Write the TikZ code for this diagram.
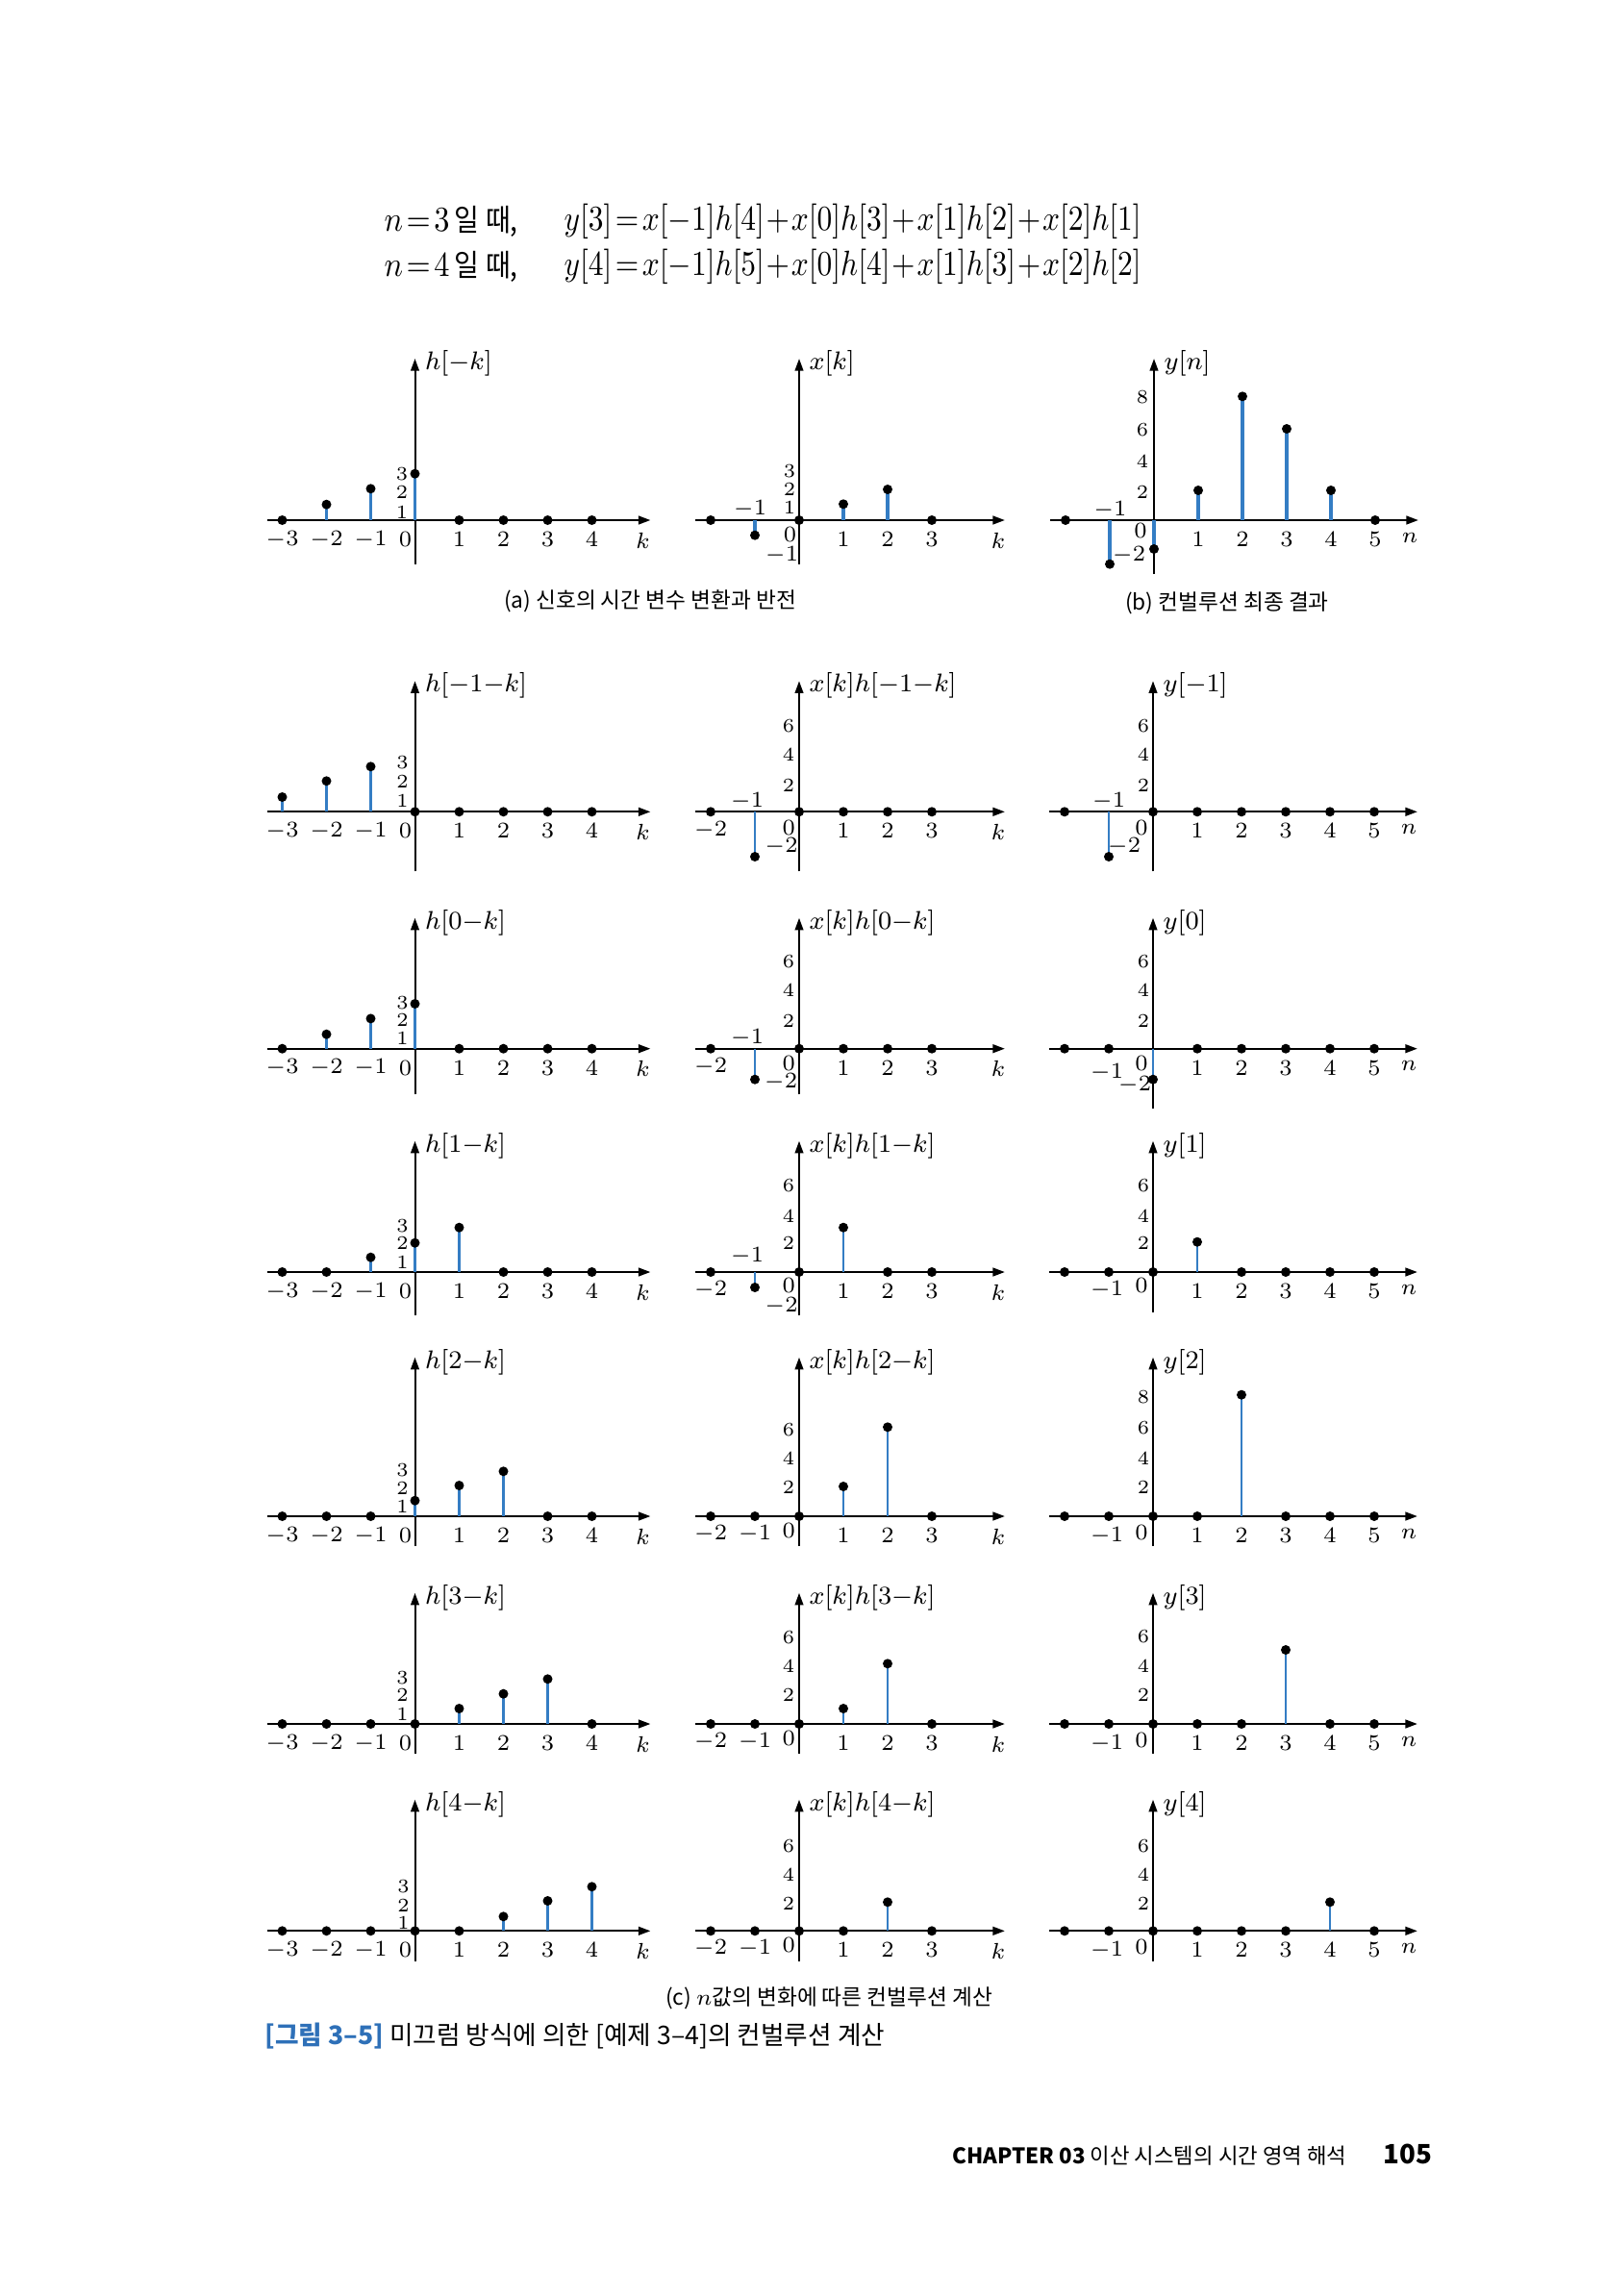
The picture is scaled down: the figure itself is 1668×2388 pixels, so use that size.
\documentclass[tikz,border=0pt]{standalone}
\usepackage{fontspec}
\usepackage{graphicx}
\usetikzlibrary{arrows.meta}
\newfontfamily\kr{Noto Sans CJK KR}
\definecolor{stemblue}{RGB}{52,125,196}
\definecolor{capblue}{RGB}{46,112,184}
\newcommand\zdots[1]{\foreach \k in {#1} {\fill (\k*46,0) circle[radius=1.5pt];}}
\newcommand\stemdot[2]{\draw[stm] (#1*46,0) -- (#1*46,#2); \fill (#1*46,#2) circle[radius=1.5pt];}
\newcommand\lab[3]{\node[tl] at (#1,#2) {$#3$};}
\newcommand\ylab[3]{\node[yl] at (#1,#2) {$#3$};}
\newcommand\slab[3]{\node[sl] at (#1,#2) {$#3$};}
\newcommand\Lcol[3]{%
 \draw[hax] (-154,0) -- (245,0);
 \draw[vax] (0,#1) -- (0,#2);
 \node[fl] at (10,#2+5) {$#3$};
 \foreach \k in {-3,-2,-1,1,2,3,4} {\node[tl] at (\k*46,20) {$\k$};}
 \node[tl] at (-10,20) {$0$};
 \node[tl] at (237,21) {$k$};}
\newcommand\Mcol[3]{%
 \draw[hax] (-108,0) -- (214,0);
 \draw[vax] (0,#1) -- (0,#2);
 \node[fl] at (10,#2+5) {$#3$};
 \foreach \k in {1,2,3} {\node[tl] at (\k*46,20) {$\k$};}
 \node[tl] at (207,21) {$k$};}
\newcommand\Rcol[3]{%
 \draw[hax] (-108,0) -- (275,0);
 \draw[vax] (0,#1) -- (0,#2);
 \node[fl] at (10,#2+5) {$#3$};
 \foreach \k in {1,2,3,4,5} {\node[tl] at (\k*46,20) {$\k$};}
 \node[tl] at (266,18) {$n$};}
\begin{document}
\begin{tikzpicture}[x=0.3pt,y=-0.3pt,
 hax/.style={line width=0.7pt,-{Triangle[length=3.8pt,width=2.6pt]}},
 vax/.style={line width=0.6pt,-{Triangle[length=3.8pt,width=2.6pt]}},
 stm/.style={stemblue,line width=0.75pt},
 tl/.style={inner sep=0pt,font=\fontsize{6.8}{8}\selectfont},
 yl/.style={inner sep=0pt,font=\fontsize{6.5}{7.5}\selectfont},
 sl/.style={inner sep=0pt,font=\fontsize{6}{7}\selectfont},
 fl/.style={inner sep=0pt,anchor=west,font=\fontsize{8}{9.5}\selectfont},
 captxt/.style={inner sep=0pt,font=\kr\fontsize{6.8}{8}\selectfont}]
\fill[white] (0,0) rectangle (1668,2388);
\useasboundingbox (0,0) rectangle (1668,2388);
% equations
\node[anchor=west,inner sep=0pt,font=\fontsize{10.5}{12}\selectfont] (n3) at (399,230) {\resizebox{41.7pt}{\height}{$n\!=\!3$\,{\kr\fontsize{9.5}{10}\selectfont 일\ 때,}}};
\node[anchor=west,inner sep=0pt,font=\fontsize{10.5}{12}\selectfont] (y3) at (586,230) {\resizebox{180pt}{\height}{$y[3]\!=\!x[-1]h[4]\!+\!x[0]h[3]\!+\!x[1]h[2]\!+\!x[2]h[1]$}};
\node[anchor=west,inner sep=0pt,font=\fontsize{10.5}{12}\selectfont] (n4) at (399,277) {\resizebox{41.7pt}{\height}{$n\!=\!4$\,{\kr\fontsize{9.5}{10}\selectfont 일\ 때,}}};
\node[anchor=west,inner sep=0pt,font=\fontsize{10.5}{12}\selectfont] (y4) at (586,277) {\resizebox{180pt}{\height}{$y[4]\!=\!x[-1]h[5]\!+\!x[0]h[4]\!+\!x[1]h[3]\!+\!x[2]h[2]$}};
% ---- row (a)/(b)
\begin{scope}[shift={(431.5,541)},stm/.style={stemblue,line width=1pt}]
 \Lcol{46}{-168}{h[{-}k]}
 \stemdot{-2}{-16.3}\stemdot{-1}{-32.7}\stemdot{0}{-48.3}
 \zdots{-3,1,2,3,4}
 \slab{-13.5}{-48.3}{3}\slab{-13.5}{-29.3}{2}\slab{-13.5}{-8.3}{1}
\end{scope}
\begin{scope}[shift={(831,541)},stm/.style={stemblue,line width=1pt}]
 \Mcol{46}{-168}{x[k]}
 \stemdot{-1}{15.7}\stemdot{1}{-16.7}\stemdot{2}{-32}
 \zdots{-2,0,3}
 \slab{-10}{-51}{3}\slab{-10}{-32}{2}\slab{-10}{-12.7}{1}
 \lab{-51}{-12}{-1}\lab{-9.5}{15}{0}\lab{-18}{36}{-1}
\end{scope}
\begin{scope}[shift={(1200,541)},stm/.style={stemblue,line width=1pt}]
 \Rcol{56}{-168}{y[n]}
 \stemdot{-1}{45.7}\stemdot{0}{30}\stemdot{1}{-31}\stemdot{2}{-128.7}\stemdot{3}{-95}\stemdot{4}{-31}
 \zdots{-2,5}
 \ylab{-12}{-128.3}{8}\ylab{-12}{-94.3}{6}\ylab{-12}{-61}{4}\ylab{-12}{-29.3}{2}
 \lab{-45.7}{-11}{-1}\lab{-14}{11}{0}\lab{-26}{36}{-2}
\end{scope}
\node[captxt] (capa) at (676,625) {(a) 신호의 시간 변수 변환과 반전};
\node[captxt] (capb) at (1276,627) {(b) 컨벌루션 최종 결과};
% ---- c1
\begin{scope}[shift={(431.5,844.3)}]
 \Lcol{62}{-136}{h[{-}1{-}k]}
 \stemdot{-3}{-15.3}\stemdot{-2}{-32}\stemdot{-1}{-47}
 \zdots{0,1,2,3,4}
 \slab{-13}{-51}{3}\slab{-13}{-31}{2}\slab{-13}{-11}{1}
\end{scope}
\begin{scope}[shift={(831,844.3)}]
 \Mcol{62}{-136}{x[k]h[{-}1{-}k]}
 \stemdot{-1}{46.7}
 \zdots{-2,0,1,2,3}
 \lab{-92}{19}{-2}\lab{-54}{-11}{-1}\lab{-10.7}{16.5}{0}\lab{-18.5}{36}{-2}
 \ylab{-11}{-89.3}{6}\ylab{-11}{-59.3}{4}\ylab{-11}{-27.7}{2}
\end{scope}
\begin{scope}[shift={(1199,844.3)}]
 \Rcol{62}{-136}{y[{-}1]}
 \stemdot{-1}{46.7}
 \zdots{-2,0,1,2,3,4,5}
 \lab{-46}{-11}{-1}\lab{-12}{16.5}{0}\lab{-30}{36}{-2}
 \ylab{-10}{-89.3}{6}\ylab{-10}{-59.3}{4}\ylab{-10}{-27.7}{2}
\end{scope}
% ---- c2
\begin{scope}[shift={(431.5,1090.7)}]
 \Lcol{47.6}{-136}{h[0{-}k]}
 \stemdot{-2}{-15}\stemdot{-1}{-31.3}\stemdot{0}{-46.7}
 \zdots{-3,1,2,3,4}
 \slab{-13}{-47.3}{3}\slab{-13}{-29.7}{2}\slab{-13}{-10.7}{1}
\end{scope}
\begin{scope}[shift={(831,1090.7)}]
 \Mcol{47.6}{-136}{x[k]h[0{-}k]}
 \stemdot{-1}{32}
 \zdots{-2,0,1,2,3}
 \lab{-92}{19}{-2}\lab{-54}{-11}{-1}\lab{-10.7}{15}{0}\lab{-19}{34.5}{-2}
 \ylab{-11}{-90.7}{6}\ylab{-11}{-60.7}{4}\ylab{-11}{-29}{2}
\end{scope}
\begin{scope}[shift={(1199,1090.7)}]
 \Rcol{62.6}{-136}{y[0]}
 \stemdot{0}{32}
 \zdots{-2,-1,1,2,3,4,5}
 \lab{-48}{24.3}{-1}\lab{-12}{15}{0}\lab{-19}{38}{-2}
 \ylab{-10}{-90.7}{6}\ylab{-10}{-60.7}{4}\ylab{-10}{-29}{2}
\end{scope}
% ---- c3
\begin{scope}[shift={(431.5,1323)}]
 \Lcol{45.3}{-136.3}{h[1{-}k]}
 \stemdot{-1}{-15.3}\stemdot{0}{-30.3}\stemdot{1}{-46.3}
 \zdots{-3,-2,2,3,4}
 \slab{-13}{-48}{3}\slab{-13}{-29.7}{2}\slab{-13}{-9.7}{1}
\end{scope}
\begin{scope}[shift={(831,1323)}]
 \Mcol{45.3}{-136.3}{x[k]h[1{-}k]}
 \stemdot{-1}{16}\stemdot{1}{-46.3}
 \zdots{-2,0,2,3}
 \lab{-92}{18}{-2}\lab{-54}{-16.3}{-1}\lab{-10.7}{13.7}{0}\lab{-18.5}{35.3}{-2}
 \ylab{-11}{-89.7}{6}\ylab{-11}{-58}{4}\ylab{-11}{-29.7}{2}
\end{scope}
\begin{scope}[shift={(1199,1323)}]
 \Rcol{42}{-136.3}{y[1]}
 \stemdot{1}{-31.3}
 \zdots{-2,-1,0,2,3,4,5}
 \lab{-48}{18.7}{-1}\lab{-12}{13.7}{0}
 \ylab{-10}{-89.7}{6}\ylab{-10}{-58}{4}\ylab{-10}{-29.7}{2}
\end{scope}
% ---- c4
\begin{scope}[shift={(431.5,1577)}]
 \Lcol{31}{-165.3}{h[2{-}k]}
 \stemdot{0}{-16.3}\stemdot{1}{-32}\stemdot{2}{-46.7}
 \zdots{-3,-2,-1,3,4}
 \slab{-13}{-48}{3}\slab{-13}{-28.7}{2}\slab{-13}{-10.3}{1}
\end{scope}
\begin{scope}[shift={(831,1577)}]
 \Mcol{31}{-165.3}{x[k]h[2{-}k]}
 \stemdot{1}{-31}\stemdot{2}{-92.7}
 \zdots{-2,-1,0,3}
 \lab{-92}{18}{-2}\lab{-46}{18}{-1}\lab{-10.7}{15}{0}
 \ylab{-11}{-90.3}{6}\ylab{-11}{-60.3}{4}\ylab{-11}{-30.3}{2}
\end{scope}
\begin{scope}[shift={(1199,1577)}]
 \Rcol{31}{-165.3}{y[2]}
 \stemdot{2}{-126.3}
 \zdots{-2,-1,0,1,3,4,5}
 \lab{-48}{20}{-1}\lab{-12}{17}{0}
 \ylab{-10}{-123.7}{8}\ylab{-10}{-92}{6}\ylab{-10}{-60.3}{4}\ylab{-10}{-30.3}{2}
\end{scope}
% ---- c5
\begin{scope}[shift={(431.5,1793)}]
 \Lcol{31}{-136.3}{h[3{-}k]}
 \stemdot{1}{-16}\stemdot{2}{-31.3}\stemdot{3}{-46.7}
 \zdots{-3,-2,-1,0,4}
 \slab{-13}{-48}{3}\slab{-13}{-29.7}{2}\slab{-13}{-9.7}{1}
\end{scope}
\begin{scope}[shift={(831,1793)}]
 \Mcol{31}{-136.3}{x[k]h[3{-}k]}
 \stemdot{1}{-16}\stemdot{2}{-62.7}
 \zdots{-2,-1,0,3}
 \lab{-92}{18}{-2}\lab{-46}{18}{-1}\lab{-10.7}{15}{0}
 \ylab{-11}{-89.7}{6}\ylab{-11}{-59.7}{4}\ylab{-11}{-29.7}{2}
\end{scope}
\begin{scope}[shift={(1199,1793)}]
 \Rcol{31}{-136.3}{y[3]}
 \stemdot{3}{-77}
 \zdots{-2,-1,0,1,2,4,5}
 \lab{-48}{20}{-1}\lab{-12}{17}{0}
 \ylab{-10}{-91.3}{6}\ylab{-10}{-59.7}{4}\ylab{-10}{-29.7}{2}
\end{scope}
% ---- c6
\begin{scope}[shift={(431.5,2008.3)}]
 \Lcol{31.7}{-136.6}{h[4{-}k]}
 \stemdot{2}{-15}\stemdot{3}{-31.3}\stemdot{4}{-46}
 \zdots{-3,-2,-1,0,1}
 \slab{-12}{-46.7}{3}\slab{-12}{-26.6}{2}\slab{-12}{-8.3}{1}
\end{scope}
\begin{scope}[shift={(831,2008.3)}]
 \Mcol{31.7}{-136.6}{x[k]h[4{-}k]}
 \stemdot{2}{-30}
 \zdots{-2,-1,0,1,3}
 \lab{-92}{18}{-2}\lab{-46}{18}{-1}\lab{-10.7}{15}{0}
 \ylab{-11}{-88.3}{6}\ylab{-11}{-58.3}{4}\ylab{-11}{-28.3}{2}
\end{scope}
\begin{scope}[shift={(1199,2008.3)}]
 \Rcol{31.7}{-136.6}{y[4]}
 \stemdot{4}{-30}
 \zdots{-2,-1,0,1,2,3,5}
 \lab{-48}{20}{-1}\lab{-12}{17}{0}
 \ylab{-10}{-88.3}{6}\ylab{-10}{-58.3}{4}\ylab{-10}{-28.3}{2}
\end{scope}
% captions and footer
\node[captxt] (capc) at (862,2078) {(c) $n$값의 변화에 따른 컨벌루션 계산};
\node[anchor=west,inner sep=0pt,font=\kr\fontsize{8}{9.5}\selectfont] (fig) at (275,2118) {{\color{capblue}\bfseries [그림 3–5]} 미끄럼 방식에 의한 [예제 3–4]의 컨벌루션 계산};
\node[anchor=east,inner sep=0pt,font=\kr\fontsize{6.7}{8}\selectfont] (foot) at (1401,2242) {{\bfseries CHAPTER 03} 이산 시스템의 시간 영역 해석};
\node[anchor=west,inner sep=0pt,font=\kr\bfseries\fontsize{8.3}{10}\selectfont] (pg) at (1438,2240) {105};
\end{tikzpicture}
\end{document}
